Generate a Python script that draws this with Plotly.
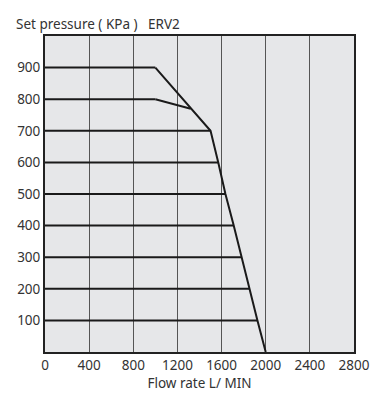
import plotly.graph_objects as go

# Data
pressure_levels = [100, 200, 300, 400, 500, 600, 700, 800, 900]          # KPa
level_end_flow = [1925, 1850, 1780, 1710, 1635, 1570, 1500, 1000, 1000]  # L/min
envelope_flow = [1000, 1500, 1570, 1635, 1710, 1780, 1850, 1925, 2000]
envelope_pressure = [900, 700, 600, 500, 400, 300, 200, 100, 0]
branch800_flow = [1000, 1320]
branch800_pressure = [800, 770]
x_ticks = [0, 400, 800, 1200, 1600, 2000, 2400, 2800]
y_ticks = [100, 200, 300, 400, 500, 600, 700, 800, 900]

hx, hy = [], []
for p, f in zip(pressure_levels, level_end_flow):
    hx += [0, f, None]
    hy += [p, p, None]

line_style = dict(color="#1a1a1a", width=2)
fig = go.Figure()
fig.add_trace(go.Scatter(x=hx, y=hy, mode="lines", line=line_style, hoverinfo="skip"))
fig.add_trace(go.Scatter(x=envelope_flow, y=envelope_pressure, mode="lines", line=line_style))
fig.add_trace(go.Scatter(x=branch800_flow, y=branch800_pressure, mode="lines", line=line_style))

font = "Noto Sans, DejaVu Sans, sans-serif"
fig.update_layout(
    width=381, height=392,
    margin=dict(l=37, r=35, t=28, b=48),
    paper_bgcolor="white", plot_bgcolor="#e6e7e9",
    showlegend=False,
    font=dict(family=font, size=13.5, color="#333333"),
    xaxis=dict(range=[0, 2800], tickvals=x_ticks, ticktext=[str(v) for v in x_ticks],
               showgrid=True, gridcolor="#555555", gridwidth=1, zeroline=False,
               showline=True, linecolor="#222222", linewidth=2, mirror=True,
               ticks="", ticklen=0, automargin=False,
               title=dict(text="Flow rate L/ MIN", standoff=0, font=dict(size=13.5, color="#333333"))),
    yaxis=dict(range=[0, 1000], tickvals=y_ticks, ticktext=[str(v) for v in y_ticks],
               showgrid=False, zeroline=False, automargin=False,
               showline=True, linecolor="#222222", linewidth=2, mirror=True,
               ticks="", ticklen=0),
    annotations=[dict(text="Set pressure ( KPa )   ERV2", xref="paper", yref="paper",
                      x=-0.1, y=1.0, xanchor="left", yanchor="bottom", yshift=1,
                      showarrow=False, font=dict(size=13.5, color="#333333"))],
)
fig.write_html("out.html")
